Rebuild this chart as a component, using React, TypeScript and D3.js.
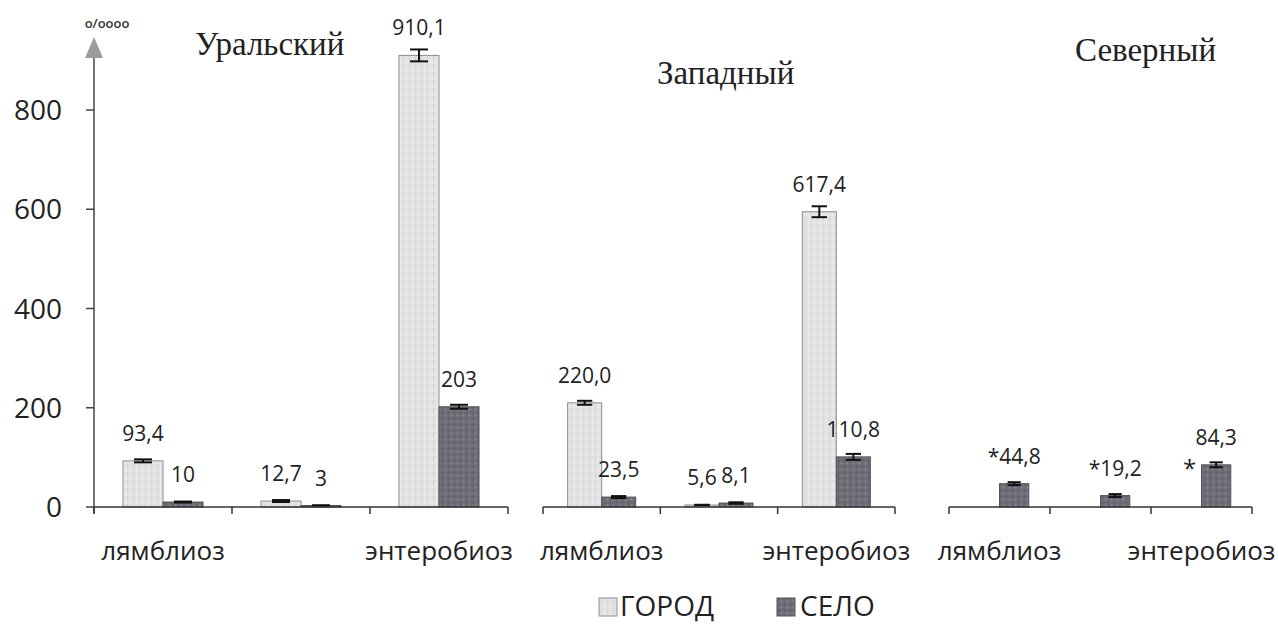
import React from "react";
import * as d3 from "d3";

// ---------- data ----------
const regions = ["Уральский", "Западный", "Северный"];
const categories = ["лямблиоз", "", "энтеробиоз"];
const yTicks = [0, 200, 400, 600, 800];
const seriesNames = ["ГОРОД", "СЕЛО"];

const uralCity = [93, 12, 910];
const uralVillage = [10, 3, 202];
const zapadCity = [210, 4, 595];
const zapadVillage = [20, 8, 101];
const severCity = [0, 0, 0];
const severVillage = [47, 23, 85];

const uralCityErr = [3, 2, 12];
const uralVillageErr = [1, 0.5, 4];
const zapadCityErr = [4, 0.5, 11];
const zapadVillageErr = [2, 1.5, 6];
const severCityErr = [0, 0, 0];
const severVillageErr = [3, 3, 5];

const uralCityLabels = ["93,4", "12,7", "910,1"];
const uralVillageLabels = ["10", "3", "203"];
const zapadCityLabels = ["220,0", "5,6", "617,4"];
const zapadVillageLabels = ["23,5", "8,1", "110,8"];
const severCityLabels = ["", "", ""];
const severVillageLabels = ["*44,8", "*19,2", "84,3"];
const severVillageStars = [false, false, true];

// ---------- layout ----------
const W = 1278;
const H = 625;
const panelRanges: [number, number][] = [
  [94, 508],
  [543, 895],
  [949, 1252],
];
const titlePos = [
  { x: 195, y: 55 },
  { x: 657, y: 84 },
  { x: 1075, y: 61 },
];

const panels = [
  { city: uralCity, village: uralVillage, cErr: uralCityErr, vErr: uralVillageErr, cLab: uralCityLabels, vLab: uralVillageLabels, stars: [false, false, false] },
  { city: zapadCity, village: zapadVillage, cErr: zapadCityErr, vErr: zapadVillageErr, cLab: zapadCityLabels, vLab: zapadVillageLabels, stars: [false, false, false] },
  { city: severCity, village: severVillage, cErr: severCityErr, vErr: severVillageErr, cLab: severCityLabels, vLab: severVillageLabels, stars: severVillageStars },
];

const SANS = "'Open Sans', 'DejaVu Sans', sans-serif";
const SERIF = "'Liberation Serif', 'DejaVu Serif', serif";

export default function App() {
  const y = d3.scaleLinear().domain([0, 800]).range([507, 110]);
  const axisX = panelRanges[0][0];

  return (
    <svg
      width={W}
      height={H}
      viewBox={`0 0 ${W} ${H}`}
      style={{ position: "absolute", left: 0, top: 0, background: "#fff" }}
    >
      <defs>
        <pattern id="cityPat" width="6" height="8" patternUnits="userSpaceOnUse">
          <rect width="6" height="8" fill="#e3e3e5" />
          <rect x="1" y="0" width="1" height="5" fill="#d2d2d6" />
          <rect x="4" y="3" width="1" height="5" fill="#ececee" />
        </pattern>
        <pattern id="villagePat" width="6" height="6" patternUnits="userSpaceOnUse">
          <rect width="6" height="6" fill="#6d6d78" />
          <circle cx="1.5" cy="1.5" r="0.9" fill="#8c8c97" />
          <circle cx="4.5" cy="4.5" r="0.9" fill="#5a5a64" />
        </pattern>
      </defs>

      {/* y axis */}
      <line x1={axisX} x2={axisX} y1={50} y2={513} stroke="#444" strokeWidth={1.5} />
      <path d={`M${axisX},37 L${axisX - 9},58 L${axisX + 9},58 Z`} fill="#9c9c9c" />
      <text x={axisX + 13} y={28} fontFamily={SANS} fontSize={13} fontWeight={600} fill="#333" textAnchor="middle">
        о/оооо
      </text>
      {yTicks.map((t) => (
        <g key={t}>
          <line x1={axisX - 8} x2={axisX} y1={y(t)} y2={y(t)} stroke="#444" strokeWidth={1.5} />
          <text x={62} y={y(t) + 10} fontFamily={SANS} fontSize={28} fill="#222" textAnchor="end">
            {t}
          </text>
        </g>
      ))}

      {panels.map((p, pi) => {
        const [x0, x1] = panelRanges[pi];
        const xb = d3.scaleBand<string>().domain(categories).range([x0, x1]).padding(0);
        const bw = xb.bandwidth();
        const barW = bw * 0.29;
        const base = y(0);
        return (
          <g key={pi}>
            <text x={titlePos[pi].x} y={titlePos[pi].y} fontFamily={SERIF} fontSize={33} fill="#222">
              {regions[pi]}
            </text>
            {categories.map((c, ci) => {
              const cx = (xb(c) as number) + bw / 2;
              const cityV = p.city[ci];
              const vilV = p.village[ci];
              const cityX = cx - barW;
              const vilX = cx;
              const capW = barW * 0.45;
              return (
                <g key={ci}>
                  {cityV > 0 && (
                    <g>
                      <rect x={cityX} y={y(cityV)} width={barW} height={base - y(cityV)} fill="url(#cityPat)" stroke="#8e8e8e" strokeWidth={1} />
                      <g stroke="#111" strokeWidth={2}>
                        <line x1={cityX + barW / 2} x2={cityX + barW / 2} y1={y(cityV + p.cErr[ci])} y2={y(cityV - p.cErr[ci])} />
                        <line x1={cityX + barW / 2 - capW / 2} x2={cityX + barW / 2 + capW / 2} y1={y(cityV + p.cErr[ci])} y2={y(cityV + p.cErr[ci])} />
                        <line x1={cityX + barW / 2 - capW / 2} x2={cityX + barW / 2 + capW / 2} y1={y(cityV - p.cErr[ci])} y2={y(cityV - p.cErr[ci])} />
                      </g>
                    </g>
                  )}
                  {vilV > 0 && (
                    <g>
                      <rect x={vilX} y={y(vilV)} width={barW} height={base - y(vilV)} fill="url(#villagePat)" stroke="#555" strokeWidth={1} />
                      <g stroke="#111" strokeWidth={2}>
                        <line x1={vilX + barW / 2} x2={vilX + barW / 2} y1={y(vilV + p.vErr[ci])} y2={y(vilV - p.vErr[ci])} />
                        <line x1={vilX + barW / 2 - capW / 2} x2={vilX + barW / 2 + capW / 2} y1={y(vilV + p.vErr[ci])} y2={y(vilV + p.vErr[ci])} />
                        <line x1={vilX + barW / 2 - capW / 2} x2={vilX + barW / 2 + capW / 2} y1={y(vilV - p.vErr[ci])} y2={y(vilV - p.vErr[ci])} />
                      </g>
                    </g>
                  )}
                  {p.cLab[ci] && (
                    <text x={cityX + barW / 2} y={y(cityV) - 20} fontFamily={SANS} fontSize={21} fill="#222" textAnchor="middle">
                      {p.cLab[ci]}
                    </text>
                  )}
                  {p.vLab[ci] && (
                    <text x={vilX + barW / 2} y={y(vilV) - 20} fontFamily={SANS} fontSize={21} fill="#222" textAnchor="middle">
                      {p.vLab[ci]}
                    </text>
                  )}
                  {p.stars[ci] && (
                    <text x={vilX - 12} y={y(vilV) + 12} fontFamily={SANS} fontSize={24} fill="#222" textAnchor="middle">
                      *
                    </text>
                  )}
                  {c && (
                    <text x={cx} y={560} fontFamily={SANS} fontSize={26} fill="#222" textAnchor="middle">
                      {c}
                    </text>
                  )}
                </g>
              );
            })}
            <line x1={x0} x2={x1} y1={base} y2={base} stroke="#333" strokeWidth={1.5} />
            {[x0, ...categories.map((c) => (xb(c) as number) + bw)].map((tx, ti) => (
              <line key={ti} x1={tx} x2={tx} y1={base} y2={base + 7} stroke="#333" strokeWidth={1.5} />
            ))}
          </g>
        );
      })}

      {/* legend */}
      <g>
        <rect x={599} y={598} width={18} height={18} fill="url(#cityPat)" stroke="#8e8e8e" />
        <text x={620} y={616} fontFamily={SANS} fontSize={28} fill="#222">
          {seriesNames[0]}
        </text>
        <rect x={777} y={598} width={18} height={18} fill="url(#villagePat)" stroke="#555" />
        <text x={800} y={616} fontFamily={SANS} fontSize={28} fill="#222">
          {seriesNames[1]}
        </text>
      </g>
    </svg>
  );
}
